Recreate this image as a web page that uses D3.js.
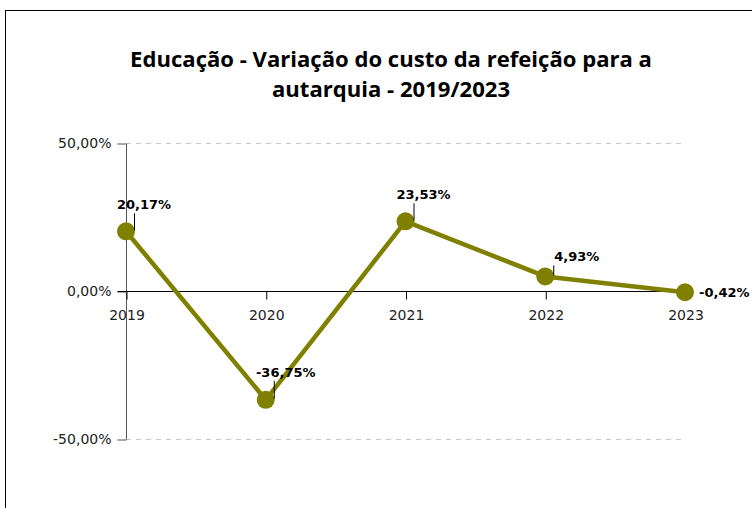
<!DOCTYPE html>
<html>
<head>
<meta charset="utf-8">
<script src="https://cdn.jsdelivr.net/npm/d3@7"></script>
<style>
  body { margin: 0; background: #fff; }
  svg { display: block; }
</style>
</head>
<body>
<div id="chart"></div>
<script>
// chart data
var years = ["2019", "2020", "2021", "2022", "2023"];
var variation = [20.17, -36.75, 23.53, 4.93, -0.42];
var yTicks = [-50, 0, 50];
var titleLines = ["Educação - Variação do custo da refeição para a", "autarquia - 2019/2023"];

// where each data label sits relative to its point
var labelPlacement = [
  { dx: 18, dy: -22, anchor: "middle", leader: true },
  { dx: 20, dy: -23, anchor: "middle", leader: true },
  { dx: 18, dy: -22, anchor: "middle", leader: true },
  { dx: 9, dy: -15, anchor: "start", leader: true },
  { dx: 14, dy: 5, anchor: "start", leader: false }
];

var width = 752, height = 508;
var olive = "#808000";

var svg = d3.select("#chart").append("svg")
  .attr("width", width)
  .attr("height", height);

// frame
svg.append("rect")
  .attr("x", 5.5).attr("y", 10.5)
  .attr("width", 800).attr("height", 600)
  .style("fill", "none")
  .style("stroke", "#000")
  .style("stroke-width", 1);

// title, scaled so the first line spans the same width as the reference
var title = svg.append("g");
var t1 = title.append("text")
  .attr("x", 391).attr("y", 67)
  .attr("text-anchor", "middle")
  .style("font-family", "'Open Sans', sans-serif")
  .style("font-weight", "bold")
  .style("font-size", "20px")
  .text(titleLines[0]);
var fs = 20 * 522 / t1.node().getComputedTextLength();
t1.style("font-size", fs + "px");
title.append("text")
  .attr("x", 391).attr("y", 97)
  .attr("text-anchor", "middle")
  .style("font-family", "'Open Sans', sans-serif")
  .style("font-weight", "bold")
  .style("font-size", fs + "px")
  .text(titleLines[1]);

var x = d3.scalePoint().domain(years).range([126, 685]);
var y = d3.scaleLinear().domain([-50, 50]).range([439, 143]);

// pt-PT style: comma decimals, plain hyphen for negatives
var fmt = function (v) {
  return (v < 0 ? "-" : "") + Math.abs(v).toFixed(2).replace(".", ",") + "%";
};

// dashed gridlines (not on zero)
svg.selectAll("line.grid")
  .data(yTicks.filter(function (d) { return d !== 0; }))
  .enter()
  .append("line")
  .attr("class", "grid")
  .attr("x1", 126).attr("x2", 685)
  .attr("y1", function (d) { return y(d) + 0.5; })
  .attr("y2", function (d) { return y(d) + 0.5; })
  .style("stroke", "#c8c8c8")
  .style("stroke-dasharray", "5,5")
  .style("stroke-width", 1);

// y axis
var yAxis = svg.append("g")
  .attr("transform", "translate(126.5,0.5)")
  .call(d3.axisLeft(y).tickValues(yTicks).tickSize(9).tickPadding(6).tickFormat(fmt));
yAxis.select(".domain").attr("d", "M0," + y(50) + "V" + y(-50)).style("stroke", "#555");
yAxis.selectAll(".tick line").style("stroke", "#555");
yAxis.selectAll("text")
  .style("font-family", "'DejaVu Sans', sans-serif")
  .style("font-size", "14px")
  .style("fill", "#222");

// x axis on zero line
var xAxis = svg.append("g")
  .attr("transform", "translate(0.5," + (y(0) + 0.5) + ")")
  .call(d3.axisBottom(x).tickSize(8).tickPadding(11).tickSizeOuter(0));
xAxis.select(".domain").attr("d", "M117,0H685").style("stroke", "#000");
xAxis.selectAll(".tick line").style("stroke", "#000");
xAxis.selectAll("text")
  .style("font-family", "'DejaVu Sans', sans-serif")
  .style("font-size", "14px")
  .style("fill", "#222");

var pts = years.map(function (yr, i) { return { year: yr, value: variation[i], place: labelPlacement[i] }; });

// series line
svg.append("path")
  .datum(pts)
  .attr("d", d3.line()
    .x(function (d) { return x(d.year); })
    .y(function (d) { return y(d.value); }))
  .style("fill", "none")
  .style("stroke", olive)
  .style("stroke-width", 4.5)
  .style("stroke-linejoin", "round");

// markers
svg.selectAll("circle")
  .data(pts)
  .enter()
  .append("circle")
  .attr("cx", function (d) { return x(d.year); })
  .attr("cy", function (d) { return y(d.value); })
  .attr("r", 9)
  .style("fill", olive);

// leader lines
svg.selectAll("line.leader")
  .data(pts.filter(function (d) { return d.place.leader; }))
  .enter()
  .append("line")
  .attr("class", "leader")
  .attr("x1", function (d) { return x(d.year) + 8.5; })
  .attr("x2", function (d) { return x(d.year) + 8.5; })
  .attr("y1", function (d) { return y(d.value) + d.place.dy + 4; })
  .attr("y2", function (d) { return y(d.value) - 1; })
  .style("stroke", "#000")
  .style("stroke-width", 1);

// data labels
svg.selectAll("text.label")
  .data(pts)
  .enter()
  .append("text")
  .attr("class", "label")
  .attr("x", function (d) { return x(d.year) + d.place.dx; })
  .attr("y", function (d) { return y(d.value) + d.place.dy; })
  .attr("text-anchor", function (d) { return d.place.anchor; })
  .style("font-family", "'DejaVu Sans', sans-serif")
  .style("font-weight", "bold")
  .style("font-size", "13px")
  .style("fill", "#000")
  .text(function (d) { return fmt(d.value); });
</script>
</body>
</html>
